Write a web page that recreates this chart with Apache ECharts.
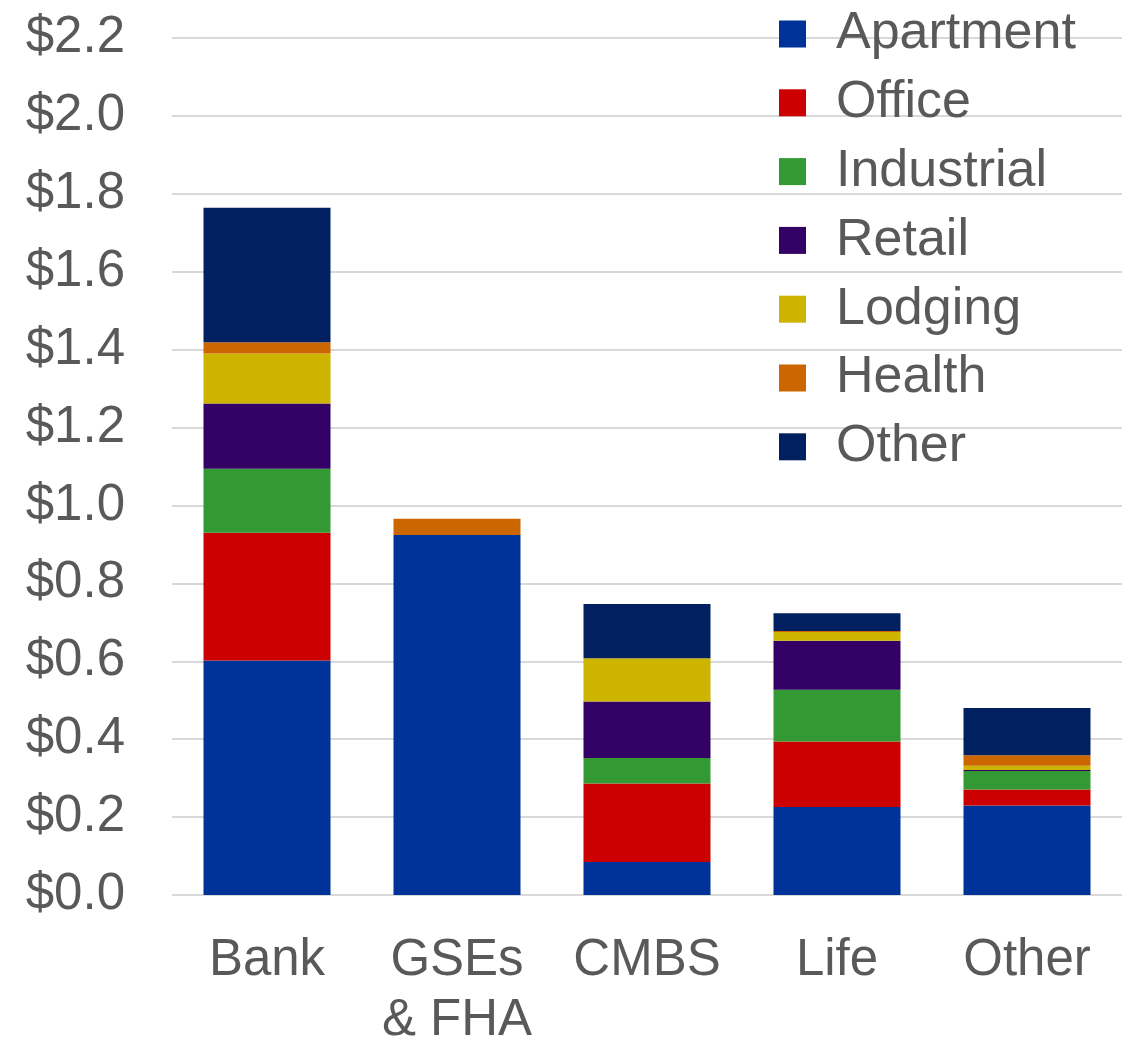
<!DOCTYPE html>
<html>
<head>
<meta charset="utf-8">
<script src="https://cdn.jsdelivr.net/npm/echarts@6/dist/echarts.min.js"></script>
<style>
  html, body { margin: 0; padding: 0; background: #fff; }
  #chart { width: 1133px; height: 1042px; }
</style>
</head>
<body>
<div id="chart"></div>
<script>
  var categories = ["Bank", "GSEs\n& FHA", "CMBS", "Life", "Other"];
  var seriesNames = ["Apartment", "Office", "Industrial", "Retail", "Lodging", "Health", "Other"];
  var apartment = [0.602, 0.924, 0.085, 0.226, 0.230];
  var office = [0.328, 0, 0.201, 0.168, 0.041];
  var industrial = [0.164, 0, 0.066, 0.133, 0.047];
  var retail = [0.168, 0, 0.145, 0.126, 0.003];
  var lodging = [0.128, 0, 0.111, 0.022, 0.011];
  var health = [0.029, 0.042, 0, 0.003, 0.027];
  var other = [0.345, 0, 0.139, 0.045, 0.121];
  var yTicks = [0, 0.2, 0.4, 0.6, 0.8, 1.0, 1.2, 1.4, 1.6, 1.8, 2.0, 2.2];

  var colors = ["#003399", "#cc0000", "#339933", "#330066", "#ccb400", "#cc6600", "#002060"];
  var values = [apartment, office, industrial, retail, lodging, health, other];
  var textColor = "#595959";
  var font = "Arial, 'Liberation Sans', sans-serif";

  var chart = echarts.init(document.getElementById("chart"));
  chart.setOption({
    animation: false,
    color: colors,
    grid: { left: 172, right: 11, top: 38, bottom: 147, containLabel: false, outerBoundsMode: "none" },
    legend: {
      orient: "vertical", left: 779, top: 8, padding: 0,
      icon: "rect", itemWidth: 27, itemHeight: 27, itemGap: 16.8,
      data: seriesNames,
      textStyle: { fontFamily: font, fontSize: 52, lineHeight: 52, color: textColor, padding: [0, 0, 0, 25] }
    },
    xAxis: {
      type: "category", data: categories,
      axisLine: { show: false }, axisTick: { show: false },
      axisLabel: { interval: 0, color: textColor, fontFamily: font, fontSize: 51, lineHeight: 60, margin: 36 }
    },
    yAxis: {
      type: "value", min: yTicks[0], max: yTicks[yTicks.length - 1], interval: 0.2,
      axisLine: { show: false }, axisTick: { show: false },
      splitLine: { lineStyle: { color: "#d9d9d9", width: 2 } },
      axisLabel: {
        color: textColor, fontFamily: font, fontSize: 51, margin: 47,
        formatter: function (v) { return "$" + v.toFixed(1); }
      }
    },
    series: seriesNames.map(function (name, i) {
      return { name: name, type: "bar", stack: "total", data: values[i], barWidth: 127 };
    })
  });
</script>
</body>
</html>
